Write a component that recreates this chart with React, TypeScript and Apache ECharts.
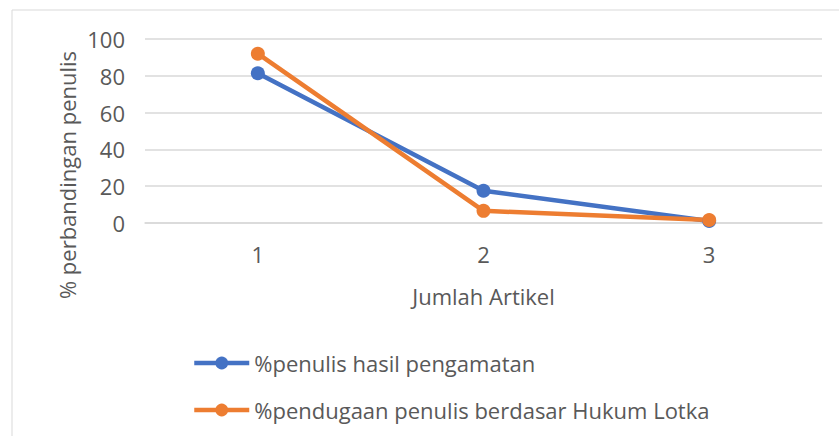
import React, { useEffect, useRef } from "react";
import * as echarts from "echarts";

const categories = ["1", "2", "3"];
const observed = [81.4, 17.5, 1.1];
const predicted = [92.0, 6.6, 1.6];
const seriesNames = ["%penulis hasil pengamatan", "%pendugaan penulis berdasar Hukum Lotka"];
const yTitle = "% perbandingan penulis";
const xTitle = "Jumlah Artikel";

const FONT = "Open Sans";
const TXT = "#595959";
const FS = 22;

export default function App() {
  const ref = useRef<HTMLDivElement>(null);
  useEffect(() => {
    if (!ref.current) return;
    const chart = echarts.init(ref.current, undefined, { renderer: "svg" });
    chart.setOption({
      animation: false,
      backgroundColor: "#ffffff",
      textStyle: { fontFamily: FONT },
      graphic: [
        {
          type: "rect",
          shape: { x: 12, y: 10, width: 900, height: 600 },
          style: { fill: "none", stroke: "#D9D9D9", lineWidth: 1 },
          silent: true,
        },
        {
          type: "text",
          x: 67,
          y: 175,
          rotation: Math.PI / 2,
          style: {
            text: yTitle,
            fontFamily: FONT,
            fontSize: FS,
            fill: TXT,
            textAlign: "center",
            textVerticalAlign: "middle",
          },
        },
      ],
      grid: { left: 145, right: 17, top: 39, bottom: 213, containLabel: false },
      xAxis: {
        type: "category",
        data: categories,
        boundaryGap: true,
        axisLine: { show: true, lineStyle: { color: "#D9D9D9", width: 1.5 } },
        axisTick: { show: false },
        axisLabel: { color: TXT, fontSize: FS, fontFamily: FONT, margin: 20 },
        name: xTitle,
        nameLocation: "middle",
        nameGap: 62,
        nameTextStyle: { color: TXT, fontSize: FS, fontFamily: FONT },
      },
      yAxis: {
        type: "value",
        min: 0,
        max: 100,
        interval: 20,
        axisLine: { show: false },
        axisTick: { show: false },
        axisLabel: { color: TXT, fontSize: FS, fontFamily: FONT, margin: 20 },
        splitLine: { lineStyle: { color: "#D9D9D9", width: 1.5 } },
      },
      legend: {
        orient: "vertical",
        left: 192,
        top: 352,
        padding: 0,
        itemWidth: 55,
        itemHeight: 16,
        itemGap: 25,
        lineStyle: { width: 4.5 },
        textStyle: { color: TXT, fontSize: FS, fontFamily: FONT, padding: [0, 0, 0, 0] },
        data: seriesNames,
      },
      series: [
        {
          name: seriesNames[0],
          type: "line",
          data: observed,
          symbol: "circle",
          symbolSize: 14,
          lineStyle: { width: 4.5, color: "#4472C4" },
          itemStyle: { color: "#4472C4" },
        },
        {
          name: seriesNames[1],
          type: "line",
          data: predicted,
          symbol: "circle",
          symbolSize: 14,
          lineStyle: { width: 4.5, color: "#ED7D31" },
          itemStyle: { color: "#ED7D31" },
        },
      ],
    });
    return () => chart.dispose();
  }, []);
  return (
    <div
      ref={ref}
      style={{ position: "fixed", left: 0, top: 0, width: 839, height: 436, background: "#fff" }}
    />
  );
}
